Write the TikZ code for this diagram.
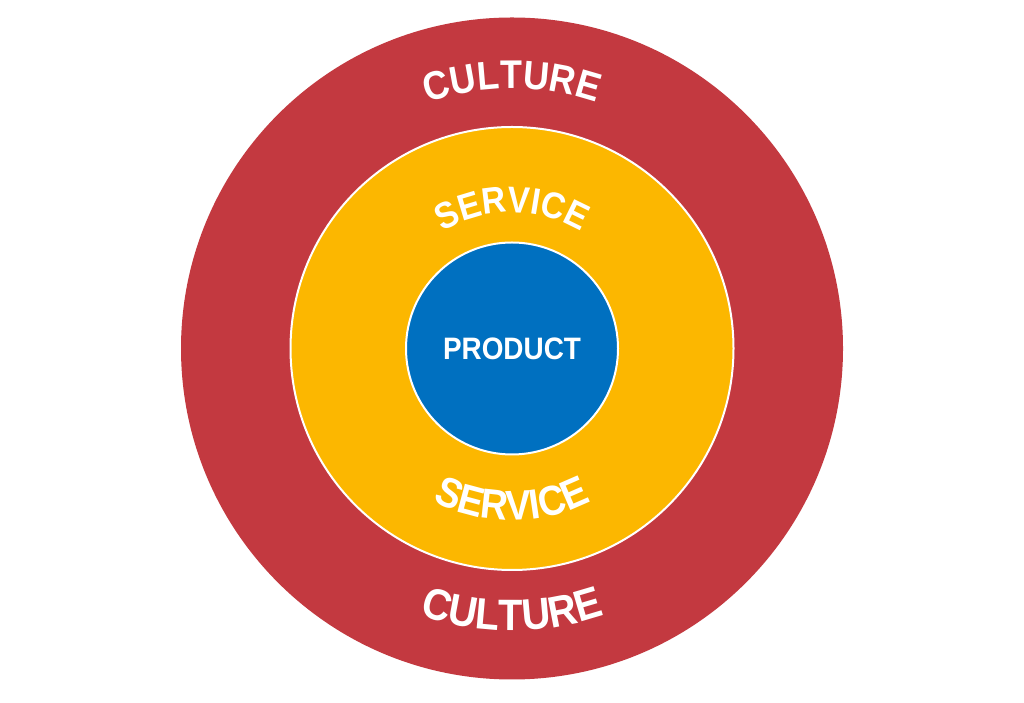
\documentclass[tikz,border=0pt]{standalone}
\usepackage{fontspec}
\setmainfont{Liberation Sans}
\newfontfamily\narrowsans{Liberation Sans}[FakeStretch=0.9]
\usetikzlibrary{decorations.text}
\definecolor{cred}{RGB}{195,57,64}
\definecolor{cyellow}{RGB}{252,183,0}
\definecolor{cblue}{RGB}{0,112,192}
\newcommand{\cultfont}{\narrowsans\bfseries\fontsize{40}{40}\selectfont}
\newcommand{\cultfontb}{\narrowsans\bfseries\fontsize{44}{44}\selectfont}
\newcommand{\servfont}{\narrowsans\bfseries\fontsize{37}{37}\selectfont}
\newcommand{\servfontb}{\narrowsans\bfseries\fontsize{42}{42}\selectfont}
\tikzset{
  ring/.style={circle, inner sep=0pt, outer sep=0pt},
  curvedlabel/.style={decorate, decoration={text along path, text align=center, text color=white, text={#1}}}
}
\begin{document}
\begin{tikzpicture}
\fill[white] (0pt,0pt) rectangle (1024pt,703pt);
\useasboundingbox (0pt,0pt) rectangle (1024pt,703pt);
\coordinate (c) at (512pt,354.5pt);
\node[ring, fill=cred, minimum size=662pt] (culture) at (c) {};
\node[ring, fill=cyellow, draw=white, line width=2pt, minimum size=443pt] (service) at (c) {};
\node[ring, fill=cblue, draw=white, line width=2pt, minimum size=212pt] (product) at (c) {};
\node[text=white, font=\narrowsans\bfseries\fontsize{31}{31}\selectfont] (ptext) at (c) {PRODUCT};
\path[curvedlabel={|\cultfont|CULTURE}] (c) ++(180:260pt) arc[start angle=180, end angle=0, radius=260pt];
\path[curvedlabel={|\cultfontb|CULTURE}] (c) ++(180:282pt) arc[start angle=180, end angle=360, radius=282pt];
\path[curvedlabel={|\servfont|SERVICE}] (c) ++(180:136pt) arc[start angle=180, end angle=0, radius=136pt];
\path[curvedlabel={|\servfontb|SERVICE}] (c) ++(180:172pt) arc[start angle=180, end angle=360, radius=172pt];
\end{tikzpicture}
\end{document}
